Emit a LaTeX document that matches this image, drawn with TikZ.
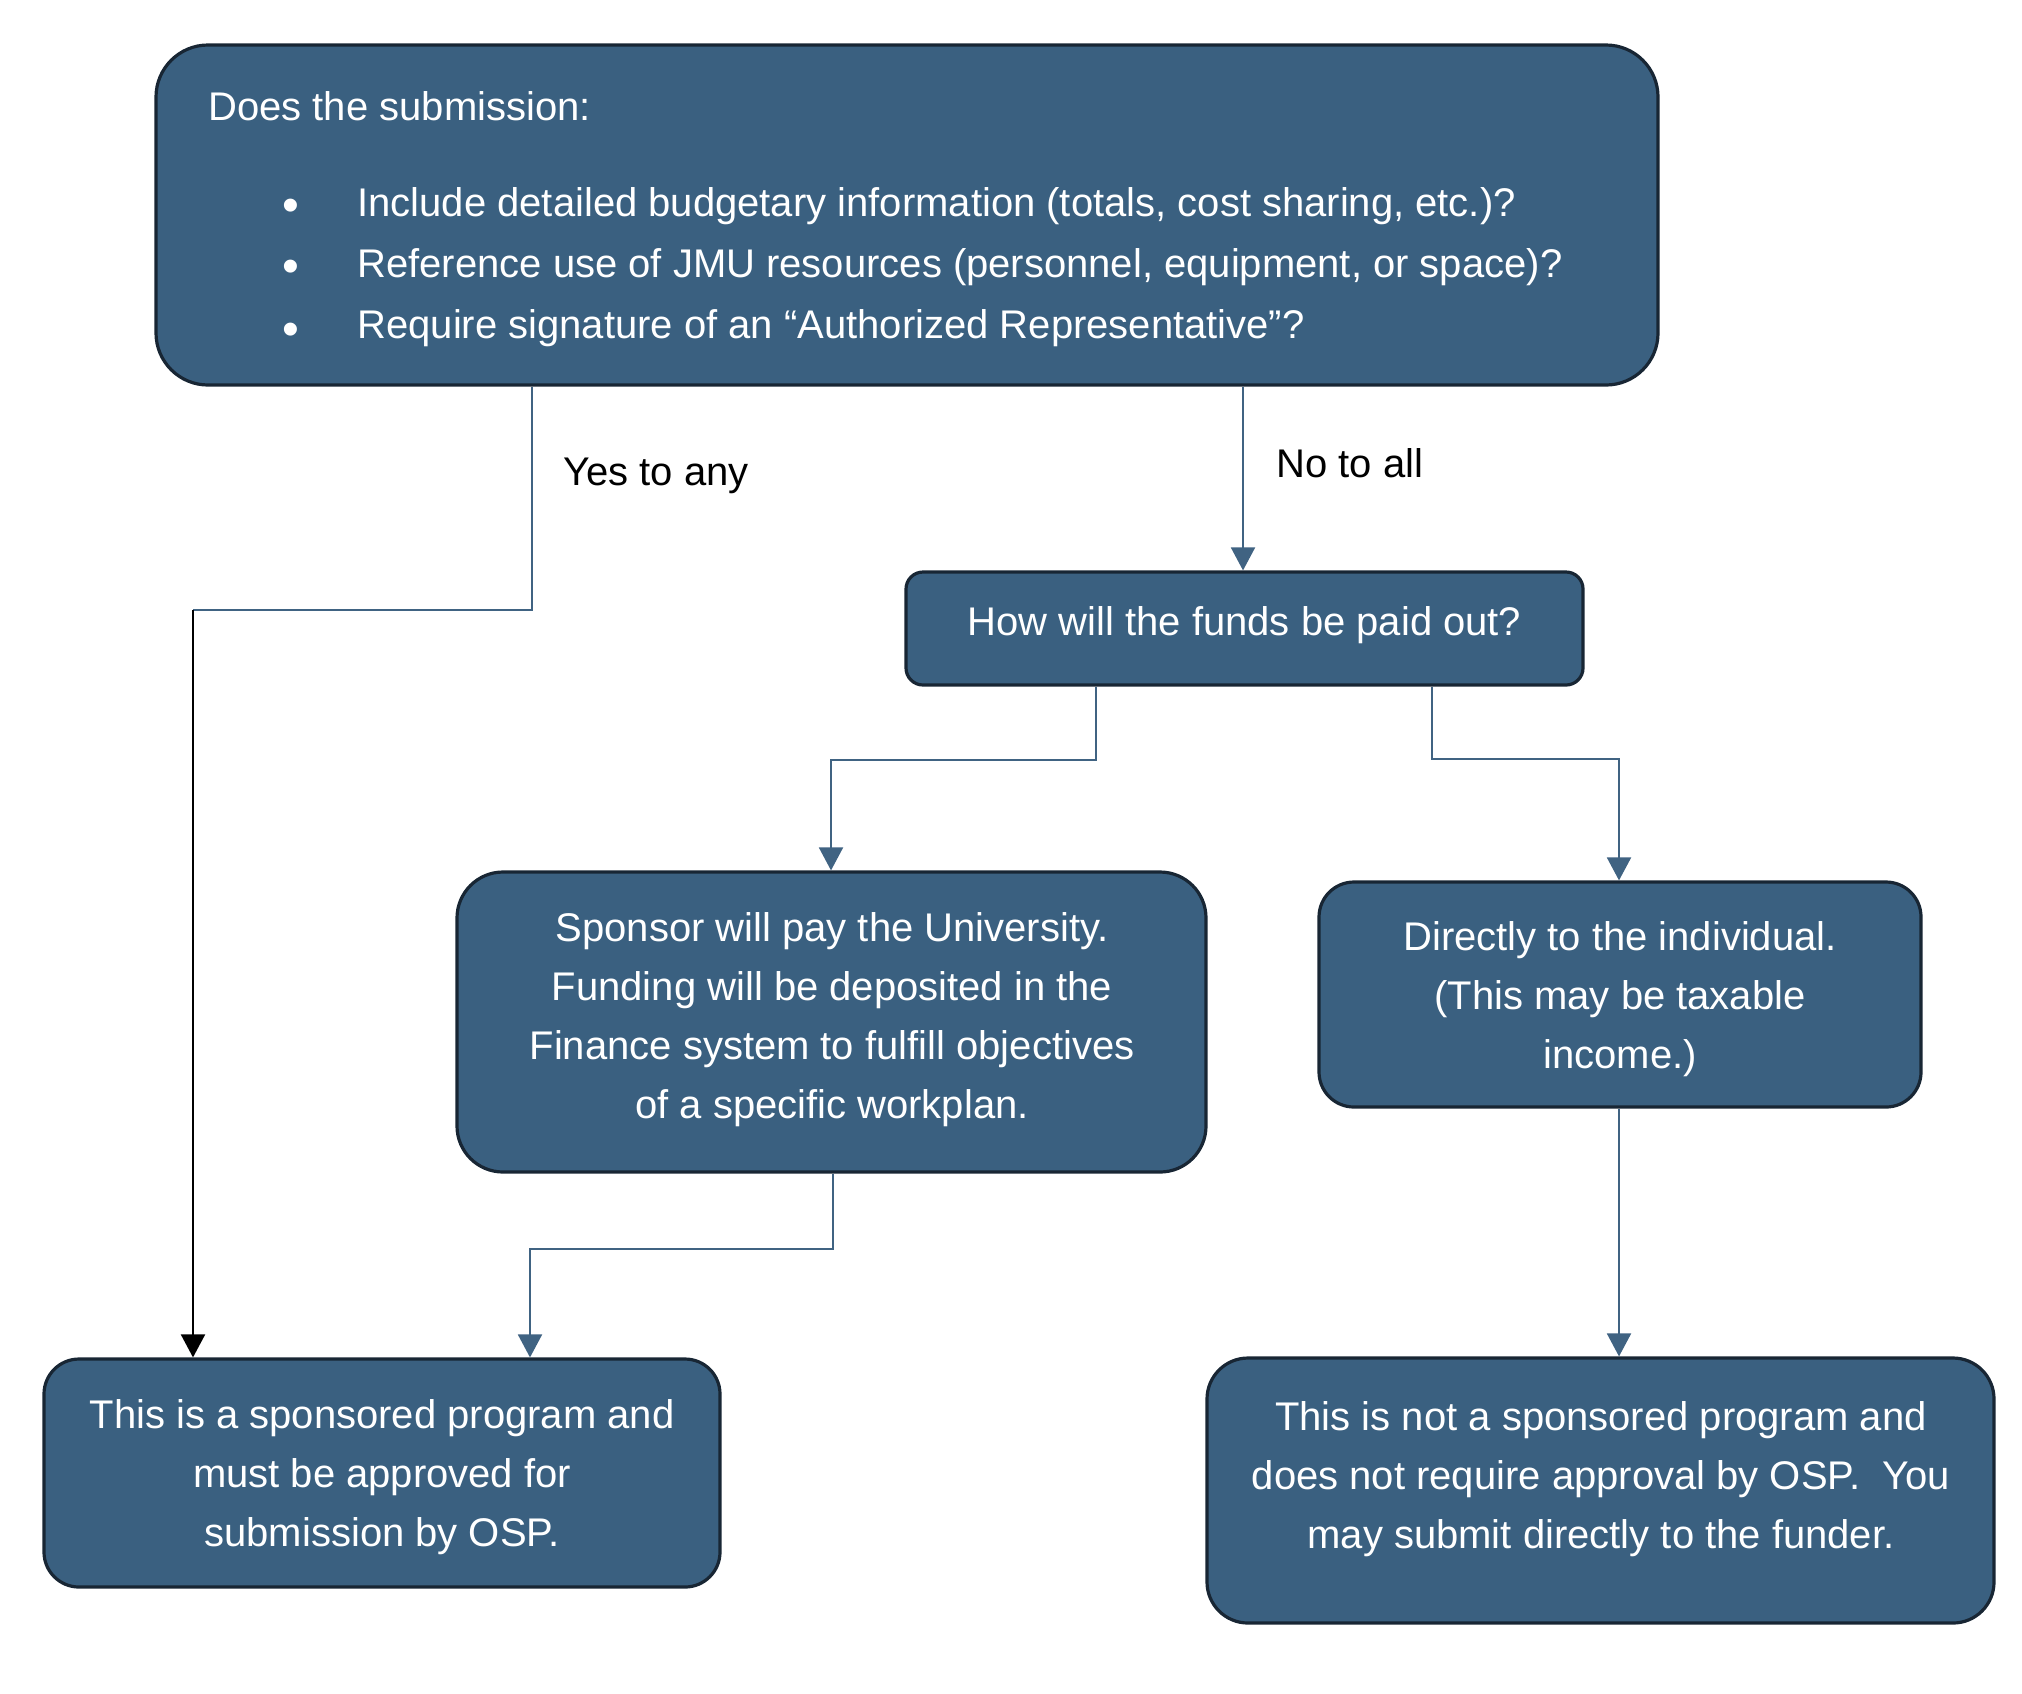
\documentclass[tikz,border=0pt]{standalone}
\usepackage{fontspec}
\setmainfont{Liberation Sans}
\usetikzlibrary{arrows.meta}
\definecolor{boxfill}{RGB}{58,96,128}
\definecolor{boxline}{RGB}{24,38,52}
\definecolor{connblue}{RGB}{64,99,130}
\newcommand\firstln{\rule{0pt}{15pt}}
\newcommand\lastln{\rule[-4.5pt]{0pt}{4.5pt}}
\begin{document}
\begin{tikzpicture}[x=0.5pt,y=-0.5pt,
  box/.style={draw=boxline, fill=boxfill, line width=1.6pt, inner sep=0pt},
  boxtext/.style={text=white, align=center, inner sep=0pt, font=\fontsize{20pt}{29.5pt}\selectfont},
  toptext/.style={text=white, inner sep=0pt, anchor=base west, font=\fontsize{20pt}{24pt}\selectfont},
  bulletmark/.style={text=white, inner sep=0pt, anchor=base, font=\fontsize{24pt}{24pt}\selectfont},
  lbl/.style={text=black, inner sep=0pt, anchor=base west, font=\fontsize{20pt}{24pt}\selectfont},
  conn/.style={draw=connblue, line width=1pt},
  connblack/.style={draw=black, line width=1pt},
  arr/.style={-{Triangle[width=12pt,length=11.5pt]}},
]
\useasboundingbox (0,0) rectangle (2022,1693);

% boxes
\node[box, rounded corners=26pt, minimum width=751pt, minimum height=170pt] (top) at (907,215) {};
\node[box, rounded corners=8.5pt, minimum width=338.5pt, minimum height=56.5pt] (how) at (1244.5,628.5) {};
\node[box, rounded corners=23pt, minimum width=374.5pt, minimum height=150pt] (spon) at (831.5,1022) {};
\node[box, rounded corners=17.5pt, minimum width=301pt, minimum height=112.5pt] (dir) at (1620,994.5) {};
\node[box, rounded corners=17.5pt, minimum width=338pt, minimum height=114pt] (yesbox) at (382,1473) {};
\node[box, rounded corners=20.5pt, minimum width=393.5pt, minimum height=132.5pt] (nobox) at (1600.5,1490.5) {};

% top box text
\node[toptext] (q0) at (208,120) {Does the submission:};
\node[bulletmark] (m1) at (291,221) {•};
\node[bulletmark] (m2) at (291,282) {•};
\node[bulletmark] (m3) at (291,345) {•};
\node[toptext] (q1) at (357,216) {Include detailed budgetary information (totals, cost sharing, etc.)?};
\node[toptext] (q2) at (357,277) {Reference use of JMU resources (personnel, equipment, or space)?};
\node[toptext] (q3) at (357,338) {Require signature of an “Authorized Representative”?};

% other box texts
\node[toptext, anchor=base] (howt) at (1244.5,635) {How will the funds be paid out?};
\node[boxtext] (spont) at (832,1019.5) {\firstln Sponsor will pay the University.\\Funding will be deposited in the\\Finance system to fulfill objectives\\of a specific workplan.\lastln};
\node[boxtext] (dirt) at (1620,998.5) {\firstln Directly to the individual.\\(This may be taxable\\income.)\lastln};
\node[boxtext] (yest) at (382,1477) {\firstln This is a sponsored program and\\must be approved for\\submission by OSP.\lastln};
\node[boxtext] (not) at (1601,1478.5) {\firstln This is not a sponsored program and\\does not require approval by OSP.\ \ You\\may submit directly to the funder.\lastln};

% labels
\node[lbl] (yeslbl) at (563,485) {Yes to any};
\node[lbl] (nolbl) at (1276,477) {No to all};

% bend points
\coordinate (ya) at (532,610);
\coordinate (yb) at (193,610);
\coordinate (nx) at (1243,0);
\coordinate (la) at (1096,760);
\coordinate (lb) at (831,760);
\coordinate (ra) at (1432,759);
\coordinate (rb) at (1619,759);
\coordinate (sa) at (833,1249);
\coordinate (sb) at (530,1249);

% connectors
\draw[conn] (top.south -| ya) -- (ya) -- (yb);
\draw[connblack, arr] (yb) -- (yesbox.north -| yb);
\draw[conn, arr] (top.south -| nx) -- (how.north -| nx);
\draw[conn, arr] (how.south -| la) -- (la) -- (lb) -- (spon.north -| lb);
\draw[conn, arr] (how.south -| ra) -- (ra) -- (rb) -- (dir.north -| rb);
\draw[conn, arr] (spon.south -| sa) -- (sa) -- (sb) -- (yesbox.north -| sb);
\draw[conn, arr] (dir.south -| rb) -- (nobox.north -| rb);
\end{tikzpicture}
\end{document}
